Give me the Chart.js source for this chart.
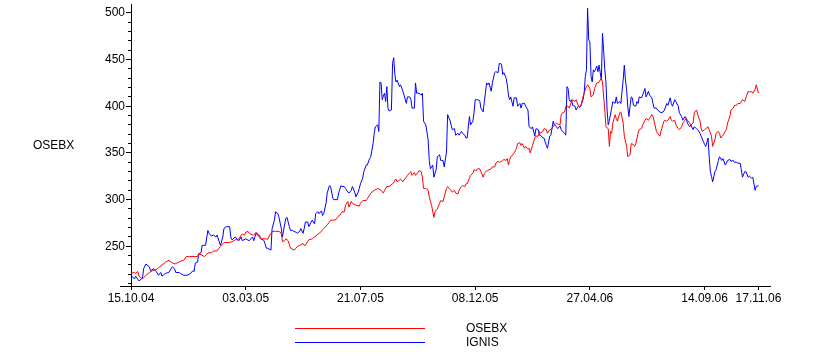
<!DOCTYPE html>
<html>
<head>
<meta charset="utf-8">
<script src="https://cdn.jsdelivr.net/npm/chart.js@4"></script>
<style>
  html, body { margin: 0; padding: 0; background: #ffffff; }
  canvas { display: block; }
</style>
</head>
<body>
<canvas id="c" width="816" height="356"></canvas>
<script>
// ---- data (trading-day index, value) ----
const seriesNames = ['OSEBX', 'IGNIS'];
const seriesColors = ['#ff0000', '#0000ff'];

const osebxX = [0,3,4,6,7,10,13,16,19,22,24,27,30,33,35,38,40,43,46,48,51,55,58,59,61,64,67,70,72,75,78,81,86,88,91,93,94,96,97,99,100,102,103,106,107,109,110,112,113,115,118,119,120,122,123,126,129,131,132,134,135,137,139,142,144,145,147,150,151,152,154,155,158,160,163,166,167,168,171,173,174,177,179,180,183,184,186,187,189,190,192,193,196,199,200,202,205,206,209,212,215,218,220,221,223,225,229,230,231,232,234,235,237,238,240,241,243,244,245,247,248,250,251,253,254,255,257,259,260,261,262,264,265,267,269,270,272,273,275,276,278,279,280,282,283,285,286,288,289,291,292,293,295,296,298,299,301,302,304,305,307,308,310,311,312,314,315,317,318,320,321,323,324,325,327,328,329,330,331,333,334,336,337,339,340,341,343,344,346,347,348,350,352,353,355,356,357,359,360,362,363,365,366,368,369,371,372,374,375,376,378,379,381,382,384,385,387,388,390,391,392,394,395,397,398,400,401,403,404,406,407,408,410,411,412,413,414,416,417,418,419,420,422,423,424,426,427,429,430,432,433,435,436,438,439,440,442,443,445,446,448,449,451,452,454,455,456,458,459,461,462,464,465,467,468,470,471,472,474,475,477,478,480,481,483,484,485,487,488,490,491,493,494,496,497,498,500,501,503,504,506,507,509,510,512,513,514,516,518,519,520,522,523,525,526,528,529,531,532,533,535,536,538,539,541,542,544,545,547];
const osebxY = [221,222,221,223,218,215,219,222,224,225,227,230,233,235,233,231,232,234,235,239,239,239,239,242,241,239,243,243,245,245,250,254,254,255,257,257,258,262,263,262,265,266,264,262,262,265,262,262,258,258,258,257,260,264,266,266,266,264,255,256,258,256,248,246,248,250,251,253,251,251,255,257,258,260,263,266,268,269,273,276,278,278,279,281,285,287,287,294,298,292,298,296,294,293,296,299,299,301,307,310,312,310,307,310,314,314,318,321,322,319,321,322,319,321,324,326,329,330,326,329,326,329,331,330,324,312,312,310,303,298,294,281,287,290,296,299,298,303,312,314,311,310,308,310,307,306,310,314,315,314,317,317,323,326,328,332,331,333,333,330,324,328,331,331,332,333,335,335,339,341,340,341,342,343,342,344,337,342,346,348,350,355,360,361,358,360,355,357,354,355,350,358,366,368,368,373,371,373,376,375,371,375,375,378,380,382,381,380,391,393,394,400,400,398,405,407,405,407,400,400,400,410,414,421,423,419,410,412,419,425,425,426,430,426,410,396,378,376,357,373,371,382,391,387,384,393,394,382,368,357,346,348,360,359,357,360,371,375,376,380,385,387,385,387,391,389,384,373,371,368,373,382,385,384,385,389,385,384,385,380,376,375,378,382,385,387,385,382,380,382,393,396,391,384,376,373,375,376,378,375,368,357,364,371,373,371,366,369,373,375,382,389,396,398,401,401,403,403,405,407,405,409,416,415,416,414,418,423,414];

const ignisX = [0,3,4,7,10,11,13,16,17,20,22,24,26,27,30,33,36,38,39,42,43,46,49,52,54,55,56,58,59,61,62,65,67,68,70,72,74,75,78,80,81,83,86,87,88,91,93,94,96,97,100,103,106,107,109,110,112,113,115,116,118,119,122,123,125,126,128,129,131,132,134,135,136,138,139,141,142,144,145,147,148,150,151,152,154,155,157,158,160,161,163,164,166,167,168,170,171,173,174,176,177,180,181,183,184,186,187,189,190,192,193,195,196,198,199,200,202,203,205,206,208,209,211,212,213,215,216,217,218,219,220,221,222,223,224,225,227,228,229,230,231,232,234,235,237,238,240,241,243,244,245,247,248,249,251,253,254,255,257,259,260,261,263,264,266,267,269,270,272,273,275,276,278,279,280,282,283,285,286,288,289,291,292,293,295,296,298,299,300,302,304,305,307,308,310,311,312,314,315,317,318,320,321,323,324,325,327,328,329,330,331,333,334,336,337,339,340,341,343,344,346,347,349,350,352,353,355,356,357,359,360,362,363,365,366,368,369,371,372,374,375,376,378,379,380,381,382,383,384,385,387,388,390,391,392,394,395,396,397,398,399,400,401,402,403,404,406,407,408,409,410,411,412,413,414,415,416,417,419,420,422,423,424,426,427,429,430,431,432,433,434,435,436,437,438,440,441,442,443,445,446,448,449,451,452,454,455,456,458,459,461,462,464,465,467,468,470,471,472,474,475,477,478,480,481,483,484,485,487,488,490,491,493,494,496,497,499,500,501,503,504,505,506,507,509,510,512,513,515,516,518,519,520,522,523,525,526,528,529,531,532,533,535,536,538,539,541,542,544,545,547];
const ignisY = [219,215,218,213,216,226,231,228,224,226,223,219,222,218,221,222,228,226,222,222,221,219,219,221,224,223,232,233,242,243,251,251,267,264,261,262,260,262,251,260,269,271,271,260,257,260,257,256,260,256,258,256,260,256,264,264,260,258,257,256,248,248,246,269,278,287,285,281,269,260,274,280,281,271,267,267,266,265,264,266,269,264,269,276,276,271,276,278,274,285,287,285,288,283,285,296,307,315,314,301,300,300,307,315,314,314,312,308,307,310,314,308,303,308,312,317,323,330,337,337,344,346,360,371,378,380,373,426,425,407,411,414,405,421,398,395,396,446,452,434,426,428,421,423,416,412,403,410,410,407,398,398,425,414,414,412,414,384,380,364,342,333,337,324,332,346,348,342,342,335,351,391,385,380,375,376,369,371,369,373,371,369,366,366,389,380,384,393,407,407,406,398,394,405,425,423,425,416,425,436,437,436,446,445,434,436,430,423,412,407,410,400,409,409,400,403,398,403,403,400,396,378,376,378,368,376,375,369,369,366,366,358,355,368,369,384,380,378,376,379,375,373,371,369,421,419,407,405,407,401,400,396,400,399,400,407,414,432,439,505,471,469,432,426,439,437,443,437,444,436,428,478,460,439,426,396,380,385,398,405,403,410,403,405,403,428,444,428,418,400,389,400,410,409,401,400,405,403,410,409,412,419,410,416,412,409,403,398,398,396,394,393,394,396,403,401,409,403,400,407,405,400,393,389,385,389,387,382,378,380,375,378,376,375,371,368,362,359,357,366,346,330,325,319,330,332,342,346,342,344,337,339,342,343,341,342,340,340,339,339,332,324,330,330,324,325,323,324,310,314,315];

const xTickPos = [0, 100, 200, 300, 400, 500, 547];
const xTickLabels = ['15.10.04', '03.03.05', '21.07.05', '08.12.05', '27.04.06', '14.09.06', '17.11.06'];
const yTickValues = [250, 300, 350, 400, 450, 500];
const yMinorTickValues = [210, 220, 230, 240, 260, 270, 280, 290, 310, 320, 330, 340, 360, 370, 380, 390, 410, 420, 430, 440, 460, 470, 480, 490];
const yAxisTitle = 'OSEBX';

// ---- chart ----
const FONT = "'Liberation Sans', Arial, sans-serif";

function alignPx(p) { return Math.round(p - 0.5) + 0.5; }

const extras = {
  id: 'extras',
  afterDraw(chart) {
    const ctx = chart.ctx;
    const area = chart.chartArea;
    const ys = chart.scales.y;
    const xs = chart.scales.x;
    ctx.save();
    ctx.strokeStyle = '#000';
    ctx.lineWidth = 1;
    ctx.beginPath();
    // minor y ticks
    yMinorTickValues.forEach(v => {
      const py = alignPx(ys.getPixelForValue(v));
      ctx.moveTo(area.left - 3, py);
      ctx.lineTo(area.left, py);
    });
    // x axis line extends a little to the left of the y axis
    const by = alignPx(xs.top);
    ctx.moveTo(area.left - 11, by);
    ctx.lineTo(area.left, by);
    ctx.stroke();

    // y axis title (horizontal)
    ctx.fillStyle = '#000';
    ctx.font = '12px ' + FONT;
    ctx.textAlign = 'left';
    ctx.textBaseline = 'middle';
    ctx.fillText(yAxisTitle, 33, 146);

    // legend
    const lx0 = 295, lx1 = 425, tx = 466;
    const rows = [328.5, 342.5];
    chart.data.datasets.forEach((ds, i) => {
      const y = rows[i];
      ctx.strokeStyle = ds.borderColor;
      ctx.beginPath();
      ctx.moveTo(lx0, y);
      ctx.lineTo(lx1, y);
      ctx.stroke();
      ctx.fillStyle = '#000';
      ctx.fillText(ds.label, tx, y + 0.5);
    });
    ctx.restore();
  }
};

const toPoints = (xs, ys) => xs.map((x, i) => ({ x: x, y: ys[i] }));

new Chart(document.getElementById('c'), {
  type: 'line',
  data: {
    datasets: [
      { label: seriesNames[0], data: toPoints(osebxX, osebxY), borderColor: seriesColors[0], backgroundColor: seriesColors[0] },
      { label: seriesNames[1], data: toPoints(ignisX, ignisY), borderColor: seriesColors[1], backgroundColor: seriesColors[1] }
    ]
  },
  options: {
    responsive: false,
    animation: false,
    layout: { padding: { top: 4, right: 46, bottom: 0, left: 0 } },
    elements: {
      point: { radius: 0, hoverRadius: 0 },
      line: { borderWidth: 1, tension: 0, fill: false }
    },
    plugins: {
      legend: { display: false },
      tooltip: { enabled: false },
      title: { display: false }
    },
    scales: {
      x: {
        type: 'linear',
        min: 0,
        max: 557,
        afterBuildTicks: s => { s.ticks = xTickPos.map(v => ({ value: v })); },
        afterFit: s => { s.height = 70; s.paddingLeft = 0; s.paddingRight = 0; },
        ticks: {
          autoSkip: false,
          maxRotation: 0,
          minRotation: 0,
          padding: 1,
          color: '#000',
          font: { family: FONT, size: 12 },
          callback: v => xTickLabels[xTickPos.indexOf(v)]
        },
        grid: { drawOnChartArea: false, drawTicks: true, tickLength: 4, color: '#000', tickColor: '#000' },
        border: { display: true, color: '#000', width: 1 }
      },
      y: {
        type: 'linear',
        min: 207.5,
        max: 509.5,
        afterBuildTicks: s => { s.ticks = yTickValues.map(v => ({ value: v })); },
        afterFit: s => { s.width = 131; s.paddingTop = 0; s.paddingBottom = 0; },
        ticks: {
          padding: 1,
          color: '#000',
          font: { family: FONT, size: 12 },
          callback: v => String(v)
        },
        grid: { drawOnChartArea: false, drawTicks: true, tickLength: 5, color: '#000', tickColor: '#000' },
        border: { display: true, color: '#000', width: 1 }
      }
    }
  },
  plugins: [extras]
});
</script>
</body>
</html>
